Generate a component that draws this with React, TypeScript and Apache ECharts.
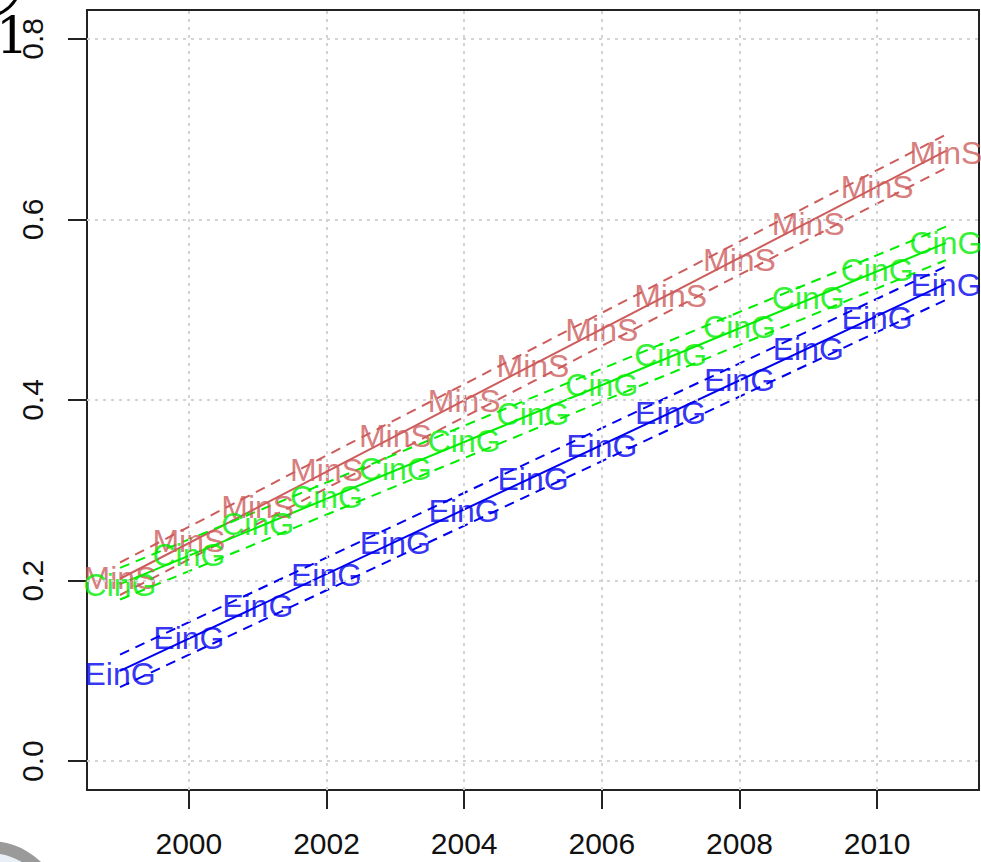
import React, { useEffect, useRef } from "react";
import * as echarts from "echarts";

// Yearly observations (label positions) for the three groups
const years = [1999, 2000, 2001, 2002, 2003, 2004, 2005, 2006, 2007, 2008, 2009, 2010, 2011];
const minS = [0.203, 0.244, 0.281, 0.322, 0.360, 0.399, 0.438, 0.477, 0.515, 0.555, 0.595, 0.636, 0.674];
const cinG = [0.195, 0.228, 0.263, 0.293, 0.324, 0.355, 0.385, 0.417, 0.450, 0.481, 0.513, 0.544, 0.574];
const einG = [0.096, 0.136, 0.172, 0.206, 0.242, 0.277, 0.313, 0.349, 0.386, 0.422, 0.457, 0.491, 0.527];

// Fitted trend lines and their bands, evaluated at the first and last year
const fitYears = [1999, 2011];
const minSFit = [0.202, 0.676];
const minSUpper = [0.220, 0.694];
const minSLower = [0.184, 0.657];
const cinGFit = [0.196, 0.574];
const cinGUpper = [0.214, 0.592];
const cinGLower = [0.179, 0.555];
const einGFit = [0.100, 0.529];
const einGUpper = [0.118, 0.548];
const einGLower = [0.082, 0.511];

// Axis ticks
const xTicks = [2000, 2002, 2004, 2006, 2008, 2010];
const yTicks = [0.0, 0.2, 0.4, 0.6, 0.8];

const COLORS = { MinS: "#cd5c5c", CinG: "#00ee00", EinG: "#0000f0" };
const FONT = "'Liberation Sans', Arial, Helvetica, sans-serif";

const pairs = (xs: number[], ys: number[]) => xs.map((x, i) => [x, ys[i]]);

function lineSeries(name: string, ys: number[], color: string, dashed: boolean) {
  return {
    name,
    type: "line",
    data: pairs(fitYears, ys),
    showSymbol: false,
    symbol: "none",
    silent: true,
    lineStyle: { color, width: 2, type: dashed ? [10, 7] : "solid" },
    z: 3,
  };
}

function labelSeries(name: string, ys: number[], color: string) {
  return {
    name,
    type: "scatter",
    data: pairs(years, ys),
    symbolSize: 1,
    itemStyle: { color: "transparent" },
    silent: true,
    label: {
      show: true,
      position: "inside",
      formatter: name,
      color,
      fontSize: 32,
      fontFamily: FONT,
    },
    z: 4,
  };
}

export default function App() {
  const ref = useRef<HTMLDivElement>(null);

  useEffect(() => {
    if (!ref.current) return;
    const chart = echarts.init(ref.current, null, { renderer: "svg" });
    const tickStyle = { color: "#222", width: 2 };
    chart.setOption({
      animation: false,
      backgroundColor: "#ffffff",
      grid: {
        left: 87,
        top: 10,
        right: 2,
        bottom: 72,
        show: true,
        borderColor: "#222",
        borderWidth: 2,
        backgroundColor: "transparent",
      },
      xAxis: {
        type: "value",
        min: 1998.52,
        max: 2011.48,
        axisLine: { show: false, onZero: false },
        splitLine: { show: false },
        axisTick: { show: true, inside: false, length: 19, customValues: xTicks, lineStyle: tickStyle },
        axisLabel: {
          customValues: xTicks,
          margin: 38,
          fontSize: 30,
          fontFamily: FONT,
          color: "#111",
          formatter: (v: number) => String(v),
        },
      },
      yAxis: {
        type: "value",
        min: -0.032,
        max: 0.832,
        axisLine: { show: false, onZero: false },
        splitLine: { show: false },
        axisTick: { show: true, inside: false, length: 19, customValues: yTicks, lineStyle: tickStyle },
        axisLabel: {
          customValues: yTicks,
          rotate: 90,
          margin: 40,
          align: "center",
          verticalAlign: "bottom",
          fontSize: 30,
          fontFamily: FONT,
          color: "#111",
          formatter: (v: number) => v.toFixed(1),
        },
      },
      graphic: [
        {
          type: "text",
          left: -4,
          top: 10,
          style: { text: "1", fontSize: 51, fontFamily: "'DejaVu Serif', serif", fill: "#000" },
        },
        {
          type: "circle",
          shape: { cx: -15, cy: -19.5, r: 36 },
          style: { fill: "none", stroke: "#000", lineWidth: 3 },
        },
        {
          type: "circle",
          shape: { cx: -10, cy: 914, r: 66.8 },
          style: { fill: "#e8eff7", stroke: "#9a9a9a", lineWidth: 12 },
        },
      ],
      series: [
        {
          name: "grid",
          type: "line",
          data: [[1999, 0]],
          showSymbol: false,
          symbol: "none",
          lineStyle: { width: 0, opacity: 0 },
          silent: true,
          z: 1,
          markLine: {
            silent: true,
            symbol: ["none", "none"],
            label: { show: false },
            lineStyle: { color: "#d3d3d3", type: [3, 5], width: 2 },
            data: [
              ...xTicks.map((v) => ({ xAxis: v })),
              ...yTicks.map((v) => ({ yAxis: v })),
            ],
          },
        },
        lineSeries("MinS fit", minSFit, COLORS.MinS, false),
        lineSeries("MinS upper", minSUpper, COLORS.MinS, true),
        lineSeries("MinS lower", minSLower, COLORS.MinS, true),
        lineSeries("CinG fit", cinGFit, COLORS.CinG, false),
        lineSeries("CinG upper", cinGUpper, COLORS.CinG, true),
        lineSeries("CinG lower", cinGLower, COLORS.CinG, true),
        lineSeries("EinG fit", einGFit, COLORS.EinG, false),
        lineSeries("EinG upper", einGUpper, COLORS.EinG, true),
        lineSeries("EinG lower", einGLower, COLORS.EinG, true),
        labelSeries("MinS", minS, COLORS.MinS),
        labelSeries("CinG", cinG, COLORS.CinG),
        labelSeries("EinG", einG, COLORS.EinG),
      ],
    });
    return () => chart.dispose();
  }, []);

  return (
    <div
      ref={ref}
      style={{ position: "absolute", left: 0, top: 0, width: 981, height: 862 }}
    />
  );
}
